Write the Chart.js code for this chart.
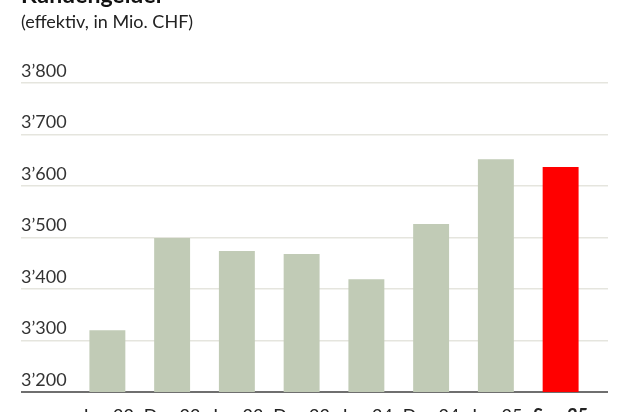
<!DOCTYPE html>
<html lang="de">
<head>
<meta charset="utf-8">
<title>Kundengelder</title>
<script src="https://cdn.jsdelivr.net/npm/chart.js@4.4.1/dist/chart.umd.min.js"></script>
<style>
  html, body { margin: 0; padding: 0; background: #fff; overflow: hidden; }
  #wrap { position: relative; width: 630px; height: 412px; overflow: hidden; }
  #titel {
    position: absolute; left: 21px; top: -20px; margin: 0;
    font: bold 23px Lato, "Open Sans", sans-serif; color: #111;
  }
  #untertitel {
    position: absolute; left: 21px; top: 10px; margin: 0;
    font: 18px Lato, "Open Sans", sans-serif; color: #222;
  }
  canvas { position: absolute; left: 0; top: 0; }
</style>
</head>
<body>
<div id="wrap">
  <canvas id="chartKunden" width="630" height="440"></canvas>
  <h1 id="titel">Kundengelder</h1>
  <p id="untertitel">(effektiv, in Mio. CHF)</p>
</div>
<script>
// Daten (effektiv, in Mio. CHF)
const kategorien = ['Jun 22', 'Dez 22', 'Jun 23', 'Dez 23', 'Jun 24', 'Dez 24', 'Jun 25', 'Sep 25'];
const werte      = [3320, 3499, 3474, 3468, 3419, 3526, 3652, 3637];
const yMin = 3200, yMax = 3800, ySchritt = 100;

const letzter = kategorien.length - 1; // aktuelle Periode hervorheben

// Tausendertrennzeichen wie im Original: 3’800
const fmt = (v) => String(v).replace(/\B(?=(\d{3})+(?!\d))/g, '\u2019');

const gridFarbe = (ctx) => (ctx.tick && ctx.tick.value === yMin) ? '#6f6f6f' : '#e5e5de';
const gridBreite = (ctx) => (ctx.tick && ctx.tick.value === yMin) ? 2 : 1.5;

new Chart(document.getElementById('chartKunden'), {
  type: 'bar',
  data: {
    labels: kategorien,
    datasets: [{
      data: werte,
      backgroundColor: werte.map((_, i) => i === letzter ? '#ff0000' : '#c1cbb6'),
      borderWidth: 0,
      categoryPercentage: 1,
      barPercentage: 0.555
    }]
  },
  options: {
    responsive: false,
    devicePixelRatio: 1,
    animation: false,
    layout: { padding: { top: 83, left: 21, right: 22, bottom: 0 } },
    plugins: {
      legend: { display: false },
      tooltip: { enabled: false }
    },
    scales: {
      x: {
        grid: { display: false },
        border: { display: false },
        ticks: {
          padding: 5,
          maxRotation: 0,
          color: '#222',
          font: (ctx) => ({
            family: 'Lato, "Open Sans", sans-serif',
            size: 18,
            weight: ctx.index === letzter ? 'bold' : 'normal'
          })
        },
        afterFit: (s) => { s.height = 48; }
      },
      y: {
        min: yMin, max: yMax,
        border: { display: false },
        grid: { color: gridFarbe, lineWidth: gridBreite, tickLength: 54, drawTicks: true },
        ticks: {
          stepSize: ySchritt,
          crossAlign: 'far',
          labelOffset: -12,
          color: '#333',
          font: { family: 'Lato, "Open Sans", sans-serif', size: 18 },
          callback: (v) => fmt(v)
        },
        afterFit: (s) => { s.width = 54; }
      },
      y2: {
        position: 'right',
        min: yMin, max: yMax,
        border: { display: false },
        grid: { color: gridFarbe, lineWidth: gridBreite, tickLength: 15, drawOnChartArea: false },
        ticks: { stepSize: ySchritt, display: false },
        afterFit: (s) => { s.width = 15; }
      }
    }
  }
});
</script>
</body>
</html>
